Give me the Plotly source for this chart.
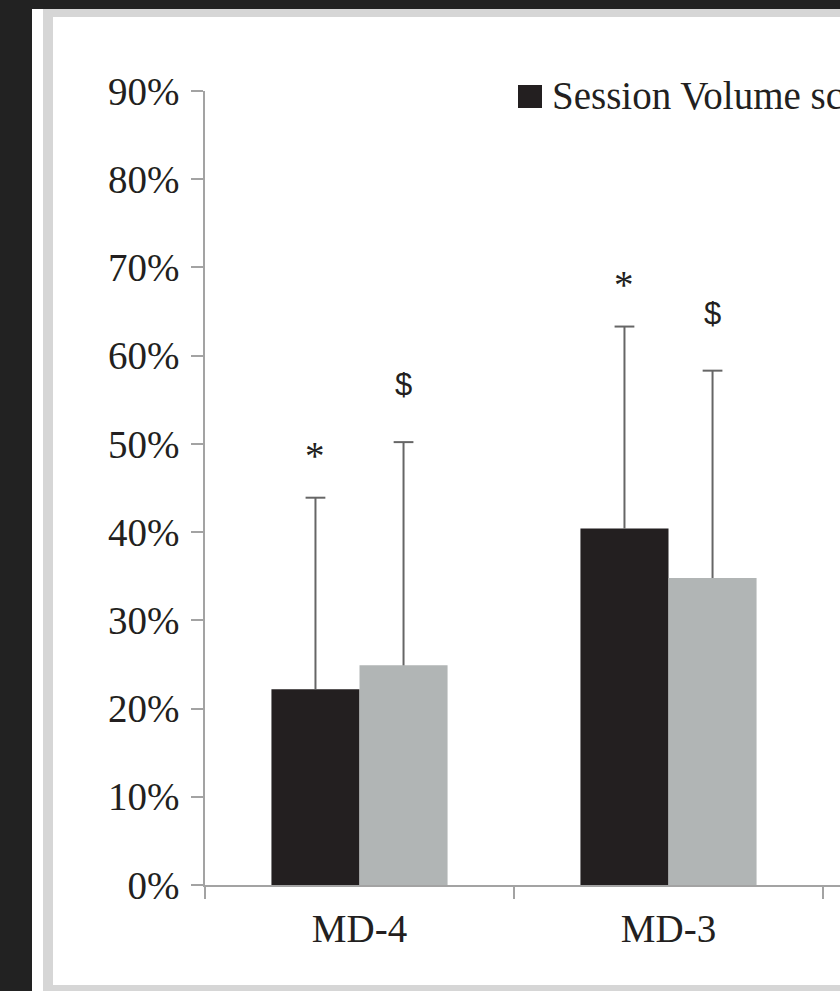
import plotly.graph_objects as go

# Data
categories = ["MD-4", "MD-3"]
session_volume = [22.2, 40.4]
session_volume_sd = [21.7, 22.9]
second_measure = [24.9, 34.8]
second_measure_sd = [25.3, 23.5]
volume_marks = ["*", "*"]
second_marks = ["$", "$"]
y_ticks = [0, 10, 20, 30, 40, 50, 60, 70, 80, 90]
y_tick_labels = ["0%", "10%", "20%", "30%", "40%", "50%", "60%", "70%", "80%", "90%"]

W, H = 840, 991
SERIF = "Liberation Serif, Times New Roman, serif"
SANS = "Liberation Sans, Arial, sans-serif"
TXT = "#231f20"
AXIS = "#a3a3a3"
WHISKER = "#666666"
BARGAP = 0.43
OFFSET = (1 - BARGAP) / 4      # centre of each bar inside its group
CAP = 0.032                    # half width of the whisker caps (x units)

cat_pos = list(range(len(categories)))


def px(x):
    return x / W


def py(y):
    return 1 - y / H


def whisker(values, sds, shift):
    xs, ys = [], []
    for c, v, s in zip(cat_pos, values, sds):
        xc = c + shift
        xs += [xc, xc, None, xc - CAP, xc + CAP, None]
        ys += [v, v + s, None, v + s, v + s, None]
    return go.Scatter(x=xs, y=ys, mode="lines", hoverinfo="skip",
                      line=dict(color=WHISKER, width=2), showlegend=False)


fig = go.Figure()
fig.add_trace(go.Bar(
    x=cat_pos, y=session_volume, name="Session Volume score",
    marker=dict(color="#231f20", line=dict(width=0)),
))
fig.add_trace(go.Bar(
    x=cat_pos, y=second_measure, name="second measure",
    marker=dict(color="#b1b5b5", line=dict(width=0)),
))
fig.add_trace(whisker(session_volume, session_volume_sd, -OFFSET))
fig.add_trace(whisker(second_measure, second_measure_sd, OFFSET))

annotations = []
for i, c in enumerate(cat_pos):
    annotations.append(dict(
        x=c - OFFSET, y=session_volume[i] + session_volume_sd[i], xref="x", yref="y",
        text=volume_marks[i], showarrow=False, yshift=19,
        yanchor="bottom", font=dict(family=SERIF, size=39, color=TXT)))
    annotations.append(dict(
        x=c + OFFSET, y=second_measure[i] + second_measure_sd[i], xref="x", yref="y",
        text=second_marks[i], showarrow=False, yshift=38,
        yanchor="bottom", font=dict(family=SANS, size=31, color=TXT)))

# Legend entry drawn as a swatch plus label
annotations.append(dict(
    x=px(550), y=py(95), xref="paper", yref="paper", xanchor="left",
    yanchor="middle", showarrow=False, text=fig.data[0].name,
    font=dict(family=SERIF, size=39, color=TXT)))

shapes = [
    # page background and frame
    dict(type="rect", xref="paper", yref="paper", x0=px(32), x1=1.05,
         y0=-0.05, y1=py(9), fillcolor="white", line=dict(width=0), layer="below"),
    dict(type="rect", xref="paper", yref="paper", x0=px(43), x1=1.05,
         y0=-0.05, y1=py(9), fillcolor="#d6d6d6", line=dict(width=0), layer="below"),
    dict(type="rect", xref="paper", yref="paper", x0=px(53), x1=1.05,
         y0=py(985), y1=py(17), fillcolor="white", line=dict(width=0), layer="below"),
    # legend swatch
    dict(type="rect", xref="paper", yref="paper", x0=px(518), x1=px(542),
         y0=py(108), y1=py(85), fillcolor="#231f20", line=dict(width=0)),
]

fig.update_layout(
    width=W, height=H,
    margin=dict(l=0, r=0, t=0, b=0, autoexpand=False),
    paper_bgcolor="#222222",
    plot_bgcolor="rgba(0,0,0,0)",
    barmode="group", bargap=BARGAP, bargroupgap=0,
    showlegend=False,
    annotations=annotations,
    shapes=shapes,
    xaxis=dict(
        domain=[px(205), 1], range=[-0.5, 1.555], automargin=False,
        tickvals=cat_pos, ticktext=categories, ticks="",
        minor=dict(tickvals=[c - 0.5 for c in cat_pos] + [cat_pos[-1] + 0.5],
                   ticks="outside", ticklen=12, tickcolor=AXIS, tickwidth=1.5,
                   showgrid=False),
        showline=True, linecolor=AXIS, linewidth=1.5,
        showgrid=False, zeroline=False, ticklabelstandoff=8,
        tickfont=dict(family=SERIF, size=39, color=TXT),
    ),
    yaxis=dict(
        domain=[py(885), py(91)], range=[0, 90], automargin=False,
        tickvals=y_ticks, ticktext=y_tick_labels,
        showline=True, linecolor=AXIS, linewidth=1.5,
        ticks="outside", ticklen=12, tickcolor=AXIS, tickwidth=1.5,
        showgrid=False, zeroline=False, ticklabelstandoff=4,
        tickfont=dict(family=SERIF, size=39, color=TXT),
    ),
)

fig.write_html("out.html")
